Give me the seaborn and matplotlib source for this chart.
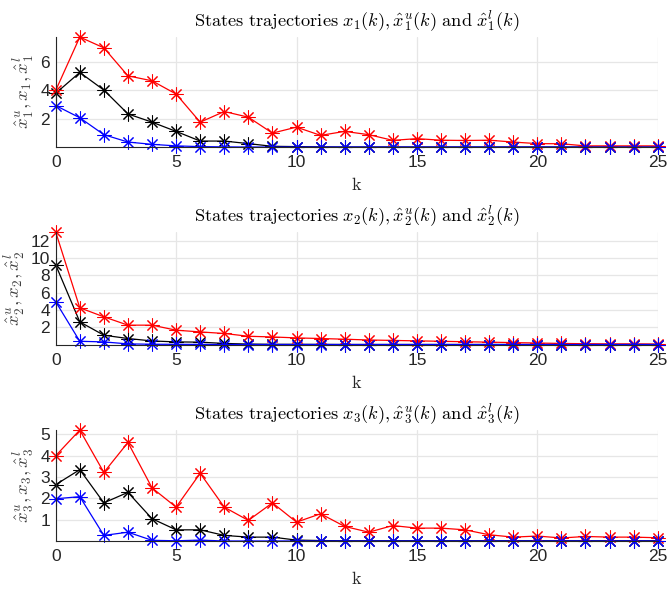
import numpy as np
import matplotlib
matplotlib.use("Agg")
import matplotlib.pyplot as plt
import seaborn as sns

k = list(range(26))

# State 1
x1_up = [4.0, 7.76, 7.0, 5.03, 4.68, 3.75, 1.77, 2.52, 2.12, 1.0, 1.42, 0.84, 1.12, 0.89,
         0.49, 0.61, 0.5, 0.48, 0.5, 0.37, 0.26, 0.25, 0.1, 0.1, 0.1, 0.1]
x1 = [3.8, 5.27, 4.03, 2.35, 1.77, 1.12, 0.44, 0.44, 0.26, 0.07, 0.05, 0.03, 0.02, 0.02,
      0.02, 0.02, 0.02, 0.02, 0.02, 0.02, 0.02, 0.02, 0.02, 0.02, 0.02, 0.02]
x1_lo = [2.94, 2.08, 0.89, 0.37, 0.21, 0.1, 0.05, 0.03, 0.02, 0.02, 0.02, 0.02, 0.02, 0.02,
         0.02, 0.02, 0.02, 0.02, 0.02, 0.02, 0.02, 0.02, 0.02, 0.02, 0.02, 0.02]

# State 2
x2_up = [13.0, 4.26, 3.22, 2.26, 2.26, 1.68, 1.48, 1.3, 0.98, 0.9, 0.79, 0.72, 0.64, 0.55,
         0.5, 0.45, 0.4, 0.35, 0.3, 0.25, 0.2, 0.15, 0.12, 0.1, 0.1, 0.08]
x2 = [9.21, 2.64, 1.1, 0.72, 0.44, 0.33, 0.3, 0.15, 0.08, 0.05, 0.05, 0.04, 0.03, 0.03,
      0.03, 0.03, 0.03, 0.03, 0.03, 0.03, 0.03, 0.03, 0.03, 0.03, 0.03, 0.03]
x2_lo = [4.96, 0.4, 0.33, 0.1, 0.06, 0.05, 0.04, 0.03, 0.03, 0.03, 0.03, 0.03, 0.03, 0.03,
         0.03, 0.03, 0.03, 0.03, 0.03, 0.03, 0.03, 0.03, 0.03, 0.03, 0.03, 0.03]

# State 3
x3_up = [3.99, 5.19, 3.21, 4.61, 2.49, 1.59, 3.17, 1.59, 0.97, 1.79, 0.89, 1.28, 0.69, 0.42,
         0.73, 0.61, 0.61, 0.53, 0.3, 0.19, 0.24, 0.15, 0.22, 0.19, 0.19, 0.16]
x3 = [2.64, 3.34, 1.79, 2.28, 1.05, 0.53, 0.53, 0.27, 0.19, 0.19, 0.05, 0.03, 0.02, 0.02,
      0.02, 0.02, 0.02, 0.02, 0.02, 0.02, 0.02, 0.02, 0.02, 0.02, 0.02, 0.02]
x3_lo = [1.98, 2.08, 0.27, 0.42, 0.04, 0.02, 0.05, 0.01, 0.01, 0.01, 0.01, 0.01, 0.01, 0.01,
         0.01, 0.01, 0.01, 0.01, 0.01, 0.01, 0.01, 0.01, 0.01, 0.01, 0.01, 0.01]

titles = [r"$\mathrm{States\ trajectories}\ x_1(k), \hat{x}_1^u(k)\ \mathrm{and}\ \hat{x}_1^l(k)$",
          r"$\mathrm{States\ trajectories}\ x_2(k), \hat{x}_2^u(k)\ \mathrm{and}\ \hat{x}_2^l(k)$",
          r"$\mathrm{States\ trajectories}\ x_3(k), \hat{x}_3^u(k)\ \mathrm{and}\ \hat{x}_3^l(k)$"]
ylabels = [r"$\hat{x}_1^u, x_1, \hat{x}_1^l$",
           r"$\hat{x}_2^u, x_2, \hat{x}_2^l$",
           r"$\hat{x}_3^u, x_3, \hat{x}_3^l$"]
yticks = [[2, 4, 6], [2, 4, 6, 8, 10, 12], [1, 2, 3, 4, 5]]
xticks = [0, 5, 10, 15, 20, 25]

sns.set_style("whitegrid")
plt.rcParams["font.family"] = ["Liberation Sans", "DejaVu Sans"]
plt.rcParams["mathtext.fontset"] = "cm"

fig = plt.figure(figsize=(6.67, 5.9), dpi=100)
L, W = 55.7 / 667, (657.7 - 55.7) / 667
boxes = [(L, 0.7508, W, 0.1864),
         (L, 0.4161, W, 0.1907),
         (L, 0.0831, W, 0.188)]

data = [(x1_up, x1, x1_lo), (x2_up, x2, x2_lo), (x3_up, x3, x3_lo)]
marker = (8, 2, 0)
for i, (up, mid, lo) in enumerate(data):
    ax = fig.add_axes(boxes[i])
    for series, col in [(mid, "black"), (up, "red"), (lo, "blue")]:
        sns.lineplot(x=k, y=series, ax=ax, color=col, marker=marker, markersize=10,
                     markeredgewidth=0.75, markeredgecolor=col, linewidth=0.9,
                     clip_on=False)
    allv = list(up) + list(mid) + list(lo)
    ax.set_xlim(min(k), max(k))
    ax.set_ylim(min(allv), max(allv))
    ax.set_xticks(xticks)
    ax.set_yticks(yticks[i])
    ax.tick_params(axis="both", direction="in", length=4, width=0.8, colors="#262626",
                   labelsize=12.5, pad=4)
    ax.tick_params(axis="x", pad=6)
    ax.grid(True, color="#e6e6e6", linewidth=0.9)
    for s in ["top", "right"]:
        ax.spines[s].set_visible(False)
    for s in ["left", "bottom"]:
        ax.spines[s].set_color("#262626")
        ax.spines[s].set_linewidth(0.8)
    ax.set_title(titles[i], fontsize=13.2, pad=8, color="black")
    ax.set_xlabel(r"$\mathrm{k}$", fontsize=13, labelpad=5, color="#262626")
    ax.set_ylabel(ylabels[i], fontsize=13.5, color="#404040", labelpad=3)

fig.savefig("out.png", dpi=100)
